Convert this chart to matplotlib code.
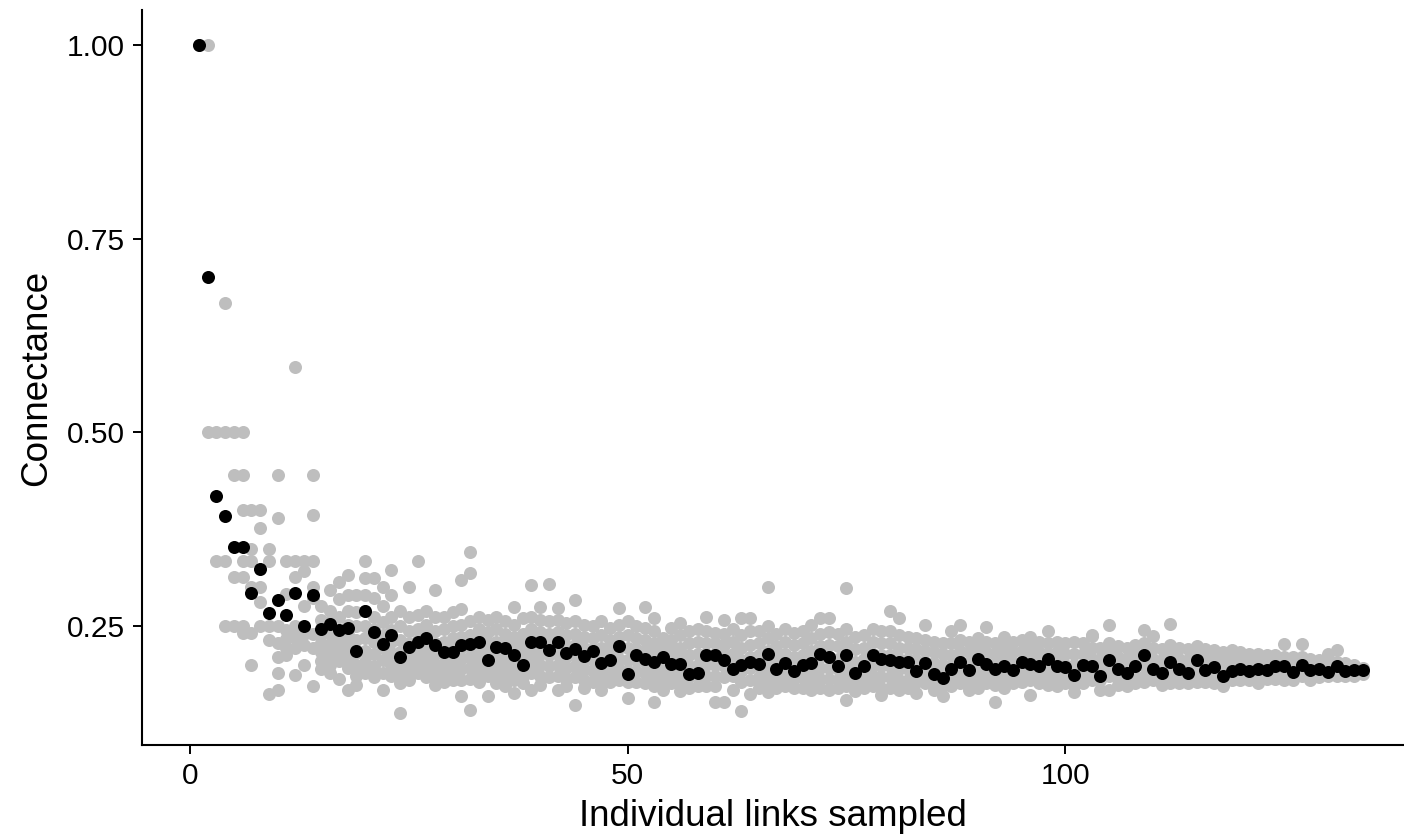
import numpy as np
import matplotlib
matplotlib.use("Agg")
import matplotlib.pyplot as plt

plt.rcParams['font.family'] = ['Liberation Sans', 'DejaVu Sans']

# mean connectance for 1..134 links sampled (black points)
mean_conn = [
    1.000, 0.700, 0.418, 0.392, 0.352, 0.352, 0.293, 0.324, 0.267, 0.284,
    0.264, 0.293, 0.250, 0.290, 0.246, 0.253, 0.245, 0.248, 0.218, 0.269,
    0.242, 0.227, 0.238, 0.210, 0.223, 0.229, 0.235, 0.226, 0.216, 0.217,
    0.225, 0.227, 0.229, 0.206, 0.223, 0.222, 0.213, 0.200, 0.229, 0.229,
    0.219, 0.229, 0.215, 0.220, 0.211, 0.218, 0.202, 0.206, 0.224, 0.188,
    0.213, 0.207, 0.203, 0.210, 0.201, 0.201, 0.188, 0.189, 0.213, 0.213,
    0.206, 0.195, 0.200, 0.204, 0.201, 0.214, 0.195, 0.202, 0.192, 0.200,
    0.202, 0.214, 0.210, 0.198, 0.213, 0.189, 0.198, 0.213, 0.208, 0.206,
    0.204, 0.203, 0.192, 0.202, 0.188, 0.183, 0.194, 0.204, 0.193, 0.208,
    0.201, 0.194, 0.198, 0.193, 0.203, 0.201, 0.198, 0.208, 0.198, 0.197,
    0.187, 0.200, 0.199, 0.186, 0.206, 0.195, 0.189, 0.198, 0.213, 0.195,
    0.189, 0.203, 0.195, 0.189, 0.206, 0.193, 0.197, 0.186, 0.192, 0.195,
    0.192, 0.194, 0.193, 0.199, 0.198, 0.191, 0.200, 0.193, 0.195, 0.191,
    0.198, 0.192, 0.193, 0.193,
]

# replicate connectance values (x1000) per number of links, gray points
reps = [
    [1000], [1000, 500], [500, 334], [667, 500, 334, 250],
    [500, 445, 313, 250], [500, 445, 400, 334, 313, 250, 241],
    [400, 350, 334, 300, 241, 200], [400, 376, 300, 281, 250],
    [350, 334, 250, 232, 162], [445, 390, 250, 228, 210, 190, 167],
    [334, 292, 245, 233, 222, 212], [584, 334, 313, 250, 236, 222, 187],
    [334, 321, 276, 240, 226, 200], [445, 393, 334, 300, 286, 240, 222, 173],
    [276, 258, 240, 228, 216, 205, 194],
    [296, 270, 255, 240, 226, 214, 200, 190],
    [307, 285, 262, 244, 230, 218, 205, 182],
    [316, 290, 270, 252, 238, 224, 210, 196, 168],
    [290, 268, 250, 232, 215, 200, 186, 174],
    [334, 312, 290, 270, 250, 235, 218, 203, 190],
    [312, 286, 262, 246, 230, 214, 198, 184],
    [300, 276, 255, 238, 222, 206, 190, 168],
    [322, 290, 262, 245, 230, 215, 200, 186],
    [270, 250, 232, 216, 202, 190, 176, 138],
    [301, 262, 244, 228, 214, 200, 186, 180],
    [334, 264, 246, 232, 218, 204, 190],
    [270, 252, 238, 224, 210, 196, 184],
    [297, 262, 244, 228, 214, 200, 186, 174],
    [262, 246, 230, 216, 202, 190, 178],
    [268, 250, 234, 220, 206, 192, 180],
    [310, 272, 252, 236, 222, 208, 194, 180, 160],
    [346, 319, 256, 238, 224, 210, 196, 182, 142],
    [262, 246, 232, 218, 204, 190, 178],
    [258, 242, 228, 214, 200, 186, 160],
    [262, 246, 230, 216, 202, 188, 176],
    [256, 240, 226, 212, 198, 184, 172],
    [274, 252, 236, 222, 208, 194, 180, 164],
    [260, 240, 226, 212, 198, 186, 176],
    [303, 262, 246, 232, 218, 204, 190, 168],
    [274, 258, 242, 228, 214, 200, 186, 174],
    [304, 256, 240, 226, 212, 198, 184],
    [273, 258, 242, 228, 214, 200, 186, 168],
    [254, 238, 224, 210, 196, 182, 172],
    [284, 256, 240, 226, 212, 198, 184, 148],
    [252, 236, 222, 208, 194, 180, 170],
    [250, 234, 220, 206, 192, 178],
    [256, 238, 222, 208, 194, 180, 168],
    [248, 232, 218, 204, 190, 178],
    [273, 252, 236, 222, 208, 194, 180],
    [256, 238, 222, 206, 192, 178, 157],
    [250, 234, 220, 206, 192, 178],
    [274, 248, 232, 218, 204, 190, 176],
    [261, 244, 228, 214, 200, 186, 172, 152],
    [235, 222, 208, 194, 180, 168],
    [248, 232, 218, 204, 190, 176],
    [254, 238, 222, 208, 194, 180, 166],
    [244, 228, 212, 198, 184, 170],
    [246, 230, 214, 200, 186, 172],
    [262, 244, 228, 214, 200, 186, 172],
    [241, 228, 214, 200, 186, 172, 152],
    [258, 240, 226, 212, 198, 184, 152],
    [246, 230, 214, 200, 186, 168],
    [261, 238, 222, 206, 192, 178, 140],
    [261, 243, 226, 210, 196, 180, 162],
    [244, 228, 212, 198, 184, 170],
    [300, 250, 234, 218, 204, 190, 176, 165],
    [240, 224, 210, 196, 182, 170],
    [246, 230, 214, 200, 186, 172],
    [241, 226, 210, 196, 182, 170],
    [244, 228, 212, 198, 184, 170],
    [251, 234, 218, 202, 188, 174, 167],
    [261, 240, 224, 210, 196, 182, 170],
    [261, 242, 226, 210, 196, 182, 167],
    [240, 224, 208, 194, 180, 170],
    [299, 246, 230, 214, 200, 186, 172, 155],
    [236, 220, 204, 190, 176, 166],
    [238, 222, 208, 194, 180, 170],
    [246, 230, 214, 200, 186, 172],
    [244, 228, 212, 198, 184, 170, 161],
    [269, 244, 228, 212, 198, 184, 170],
    [260, 238, 222, 208, 194, 180, 168],
    [236, 222, 208, 194, 180, 170],
    [234, 220, 206, 192, 178, 163],
    [251, 232, 218, 204, 190, 176],
    [230, 216, 202, 188, 176, 168],
    [228, 214, 200, 186, 174, 160],
    [243, 228, 212, 198, 184, 172],
    [251, 232, 218, 204, 190, 176],
    [230, 216, 202, 188, 176, 167],
    [235, 222, 208, 194, 180, 170],
    [249, 230, 216, 202, 188, 176],
    [228, 214, 200, 186, 174, 152],
    [236, 222, 208, 194, 180, 170],
    [230, 216, 202, 188, 176],
    [232, 218, 204, 190, 178],
    [236, 222, 208, 194, 180, 161],
    [230, 216, 202, 188, 176],
    [243, 228, 214, 200, 186, 174],
    [230, 216, 202, 188, 176, 172],
    [228, 214, 200, 186, 176],
    [230, 214, 200, 186, 174, 165],
    [228, 214, 200, 186, 176],
    [238, 237, 222, 208, 194, 180],
    [222, 208, 194, 180, 167],
    [251, 228, 214, 200, 186, 167],
    [224, 210, 196, 182, 174],
    [222, 208, 194, 180, 172],
    [226, 212, 198, 184, 176],
    [245, 228, 214, 200, 186, 178],
    [237, 222, 208, 194, 180],
    [220, 206, 192, 180, 174],
    [253, 226, 212, 198, 184, 176],
    [222, 208, 194, 182, 176],
    [220, 206, 192, 180, 177],
    [224, 212, 200, 188, 178],
    [220, 208, 196, 184, 178],
    [219, 208, 196, 184, 176],
    [216, 204, 192, 180, 172],
    [219, 208, 196, 186, 180],
    [216, 206, 196, 186, 180],
    [214, 204, 194, 186, 180],
    [214, 204, 194, 184, 177],
    [212, 204, 196, 188, 182],
    [212, 204, 196, 188, 182],
    [227, 210, 200, 190, 180],
    [210, 202, 194, 186, 180],
    [227, 210, 202, 194, 186],
    [208, 200, 192, 184, 180],
    [206, 200, 194, 188, 184],
    [214, 204, 196, 190, 185],
    [219, 204, 196, 190, 185],
    [202, 196, 190, 185],
    [200, 195, 190, 186],
    [196, 192, 188],
]

links = np.arange(1, len(mean_conn) + 1)
gx = np.concatenate([[i + 1] * len(r) for i, r in enumerate(reps)])
gy = np.concatenate([np.array(r) / 1000 for r in reps])

fig = plt.figure(figsize=(14.04, 8.39), dpi=100)
ax = fig.add_axes([0.1011, 0.112, 0.8989, 0.876])

ax.scatter(gx, gy, s=88, color='#bebebe', linewidths=0, zorder=2)
ax.scatter(links, mean_conn, s=88, color='black', linewidths=0, zorder=3)

ax.set_xlim(-5.49, 138.7)
ax.set_ylim(0.0964, 1.0452)
ax.set_xticks([0, 50, 100])
ax.set_yticks([0.25, 0.50, 0.75, 1.00])
ax.set_yticklabels(['0.25', '0.50', '0.75', '1.00'])

for s in ['top', 'right']:
    ax.spines[s].set_visible(False)
for s in ['left', 'bottom']:
    ax.spines[s].set_linewidth(1.5)
ax.tick_params(direction='out', length=6.5, width=1.4, labelsize=21.5,
               colors='black', pad=6)

ax.set_xlabel('Individual links sampled', fontsize=26.5, labelpad=6)
ax.set_ylabel('Connectance', fontsize=26.5, labelpad=9)

fig.savefig('out.png', dpi=100)
